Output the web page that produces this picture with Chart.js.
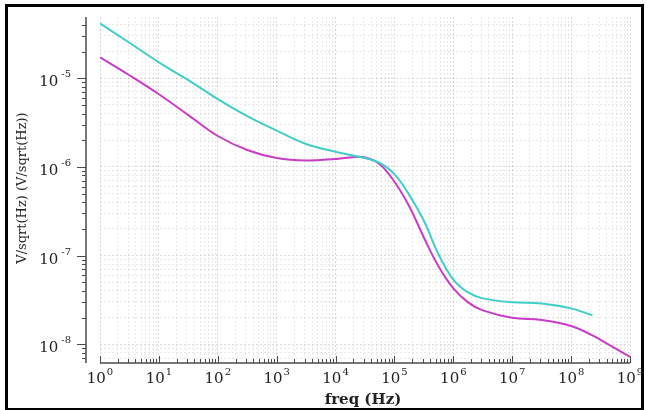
<!DOCTYPE html>
<html>
<head>
<meta charset="utf-8">
<script src="https://cdn.jsdelivr.net/npm/chart.js"></script>
<style>
  html, body { margin: 0; padding: 0; background: #fff; }
  #wrap { position: relative; width: 646px; height: 410px; }
  #frame { position: absolute; left: 5px; top: 4px; width: 633px; height: 401px; border: 3px solid #000; pointer-events: none; }
  canvas { position: absolute; left: 0; top: 0; }
</style>
</head>
<body>
<div id="wrap">
  <canvas id="noise" width="646" height="410"></canvas>
  <div id="frame"></div>
</div>
<script>
// frequency points (Hz)
const freq = [1, 3.16, 10, 31.6, 100, 316, 1e3, 3.16e3, 1e4, 1.78e4, 3.16e4, 5.62e4,
  1e5, 1.78e5, 3.16e5, 5.62e5, 1e6, 1.78e6, 3.16e6, 1e7, 3.16e7, 1e8, 2.3e8, 3.16e8, 1e9];

// cyan trace, stops at ~2.3e8 Hz
const cyanNoise = [4.15e-5, 2.51e-5, 1.51e-5, 9.5e-6, 5.81e-6, 3.74e-6, 2.57e-6, 1.81e-6, 1.48e-6, 1.36e-6, 1.26e-6, 1.11e-6,
  8.3e-7, 4.84e-7, 2.47e-7, 1.03e-7, 5.37e-8, 3.84e-8, 3.29e-8, 2.97e-8, 2.89e-8, 2.54e-8, 2.12e-8, null, null];

// magenta trace
const magentaNoise = [1.72e-5, 1.08e-5, 6.6e-6, 3.84e-6, 2.23e-6, 1.55e-6, 1.26e-6, 1.18e-6, 1.23e-6, 1.28e-6, 1.28e-6, 1.07e-6,
  6.8e-7, 3.6e-7, 1.6e-7, 7.52e-8, 4.26e-8, 2.97e-8, 2.41e-8, 1.99e-8, 1.88e-8, 1.61e-8, 1.26e-8, 1.12e-8, 7.2e-9];

// decade exponents that get a label
const xDecades = [0, 1, 2, 3, 4, 5, 6, 7, 8, 9];
const yDecades = [-8, -7, -6, -5];

const X_MIN = 1, X_MAX = 1e9;
const Y_MIN = 7e-9, Y_MAX = 4.9e-5;

function toPoints(vals) {
  return freq.map((f, i) => ({ x: f, y: vals[i] }));
}

// 1..9 x 10^n between min and max
function logTicks(min, max) {
  const out = [];
  for (let e = Math.floor(Math.log10(min)); e <= Math.ceil(Math.log10(max)); e++) {
    for (let m = 1; m <= 9; m++) {
      const v = Number((m * Math.pow(10, e)).toPrecision(3));
      if (v >= min && v <= max) out.push({ value: v });
    }
  }
  return out;
}

function isDecade(v) {
  const l = Math.log10(v);
  return Math.abs(l - Math.round(l)) < 1e-6;
}

const gridColor = (c) => isDecade(c.tick.value) ? 'rgba(0,0,0,0.15)' : 'rgba(0,0,0,0.09)';

// draw offset axes, tick marks, superscript labels and titles
const axesPlugin = {
  id: 'axesPlugin',
  afterDraw(chart) {
    const ctx = chart.ctx;
    const xs = chart.scales.x, ys = chart.scales.y;
    const area = chart.chartArea;
    const yAxisX = 86, xAxisY = 363;
    ctx.save();
    ctx.strokeStyle = '#4a4a4a';
    ctx.fillStyle = '#222';
    ctx.lineWidth = 1.5;

    // y axis
    ctx.beginPath();
    ctx.moveTo(yAxisX, area.top);
    ctx.lineTo(yAxisX, xAxisY);
    ctx.stroke();
    ctx.lineWidth = 1;
    logTicks(Y_MIN, Y_MAX).forEach(t => {
      const py = Math.round(ys.getPixelForValue(t.value)) + 0.5;
      const len = isDecade(t.value) ? 9 : 4;
      ctx.beginPath();
      ctx.moveTo(yAxisX - len, py);
      ctx.lineTo(yAxisX, py);
      ctx.stroke();
    });

    // x axis
    ctx.lineWidth = 1.5;
    ctx.beginPath();
    ctx.moveTo(area.left, xAxisY);
    ctx.lineTo(area.right, xAxisY);
    ctx.stroke();
    ctx.lineWidth = 1;
    logTicks(X_MIN, X_MAX).forEach(t => {
      const px = Math.round(xs.getPixelForValue(t.value)) + 0.5;
      const len = isDecade(t.value) ? 7 : 4;
      ctx.beginPath();
      ctx.moveTo(px, xAxisY - len);
      ctx.lineTo(px, xAxisY);
      ctx.stroke();
    });

    const baseFont = '15px "DejaVu Serif"';
    const supFont = '10px "DejaVu Serif"';

    // x labels
    ctx.textBaseline = 'alphabetic';
    xDecades.forEach(n => {
      const px = xs.getPixelForValue(Math.pow(10, n));
      ctx.font = baseFont;
      const w1 = ctx.measureText('10').width;
      ctx.font = supFont;
      const w2 = ctx.measureText(String(n)).width;
      const left = px - (w1 + 1 + w2) / 2;
      ctx.font = baseFont;
      ctx.textAlign = 'left';
      ctx.fillText('10', left, 383);
      ctx.font = supFont;
      ctx.fillText(String(n), left + w1 + 1, 375);
    });

    // y labels
    yDecades.forEach(n => {
      const py = ys.getPixelForValue(Math.pow(10, n));
      const exp = String(n);
      ctx.font = supFont;
      const w2 = ctx.measureText(exp).width;
      ctx.font = baseFont;
      const w1 = ctx.measureText('10').width;
      const right = 71;
      ctx.textAlign = 'left';
      ctx.fillText('10', right - w2 - 3 - w1, py + 8);
      ctx.font = supFont;
      ctx.fillText(exp, right - w2, py - 1);
    });

    // titles
    ctx.font = 'bold 15px "DejaVu Serif"';
    ctx.textAlign = 'center';
    ctx.fillText('freq (Hz)', 363, 404);

    ctx.translate(26, 188);
    ctx.rotate(-Math.PI / 2);
    ctx.font = '13px "DejaVu Serif"';
    ctx.fillText('V/sqrt(Hz) (V/sqrt(Hz))', 0, 0);
    ctx.restore();
  }
};

new Chart(document.getElementById('noise').getContext('2d'), {
  type: 'line',
  data: {
    datasets: [
      {
        label: 'cyan',
        data: toPoints(cyanNoise),
        borderColor: '#3fcfc9',
        borderWidth: 2,
        pointRadius: 0,
        tension: 0.4,
        spanGaps: false,
        fill: false
      },
      {
        label: 'magenta',
        data: toPoints(magentaNoise),
        borderColor: '#c83cc8',
        borderWidth: 2,
        pointRadius: 0,
        tension: 0.4,
        fill: false
      }
    ]
  },
  options: {
    responsive: false,
    animation: false,
    events: [],
    layout: { padding: { left: 100, right: 16, top: 17, bottom: 52 } },
    plugins: { legend: { display: false }, tooltip: { enabled: false } },
    scales: {
      x: {
        type: 'logarithmic',
        min: X_MIN,
        max: X_MAX,
        afterBuildTicks: (scale) => { scale.ticks = logTicks(X_MIN, X_MAX); },
        afterFit: (scale) => { scale.height = 0; },
        ticks: { display: false, autoSkip: false },
        grid: { color: gridColor, drawTicks: false, lineWidth: 1 },
        border: { display: false, dash: [2, 2] }
      },
      y: {
        type: 'logarithmic',
        min: Y_MIN,
        max: Y_MAX,
        afterBuildTicks: (scale) => { scale.ticks = logTicks(Y_MIN, Y_MAX); },
        afterFit: (scale) => { scale.width = 0; },
        ticks: { display: false, autoSkip: false },
        grid: { color: gridColor, drawTicks: false, lineWidth: 1 },
        border: { display: false, dash: [2, 2] }
      }
    }
  },
  plugins: [axesPlugin]
});
</script>
</body>
</html>
